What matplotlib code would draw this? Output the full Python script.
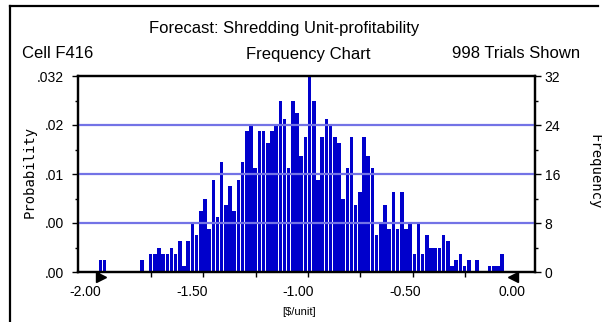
import numpy as np
import matplotlib
matplotlib.use("Agg")
import matplotlib.pyplot as plt
from matplotlib.lines import Line2D

# frequency counts per cell, cells start at -2.00 and are 0.02 wide
bin_lo = -2.00
bin_step = 0.02
counts = [2, 2, 0, 0, 0, 0, 0, 0, 0, 0,
          2, 0, 3, 3, 4, 3, 3, 4, 3, 5,
          1, 5, 8, 6, 10, 12, 7, 15, 9, 18,
          11, 14, 10, 15, 18, 23, 24, 17, 23, 23,
          21, 23, 24, 28, 25, 17, 28, 26, 19, 22,
          32, 28, 15, 22, 25, 24, 22, 21, 12, 17,
          22, 11, 13, 22, 19, 17, 6, 8, 11, 7,
          13, 7, 13, 7, 8, 3, 8, 3, 6, 4,
          4, 4, 6, 5, 1, 2, 3, 1, 2, 0,
          2, 0, 0, 1, 1, 1, 3]

x_labels = ["-2.00", "-1.50", "-1.00", "-0.50", "0.00"]
x_label_pos = [-2.064, -1.553, -1.047, -0.536, -0.025]
x_minor = [-2.0, -1.75, -1.5, -1.25, -1.0, -0.75, -0.5, -0.25, 0.0]
freq_ticks = [0, 8, 16, 24, 32]
prob_labels = [".00", ".00", ".01", ".02", ".032"]
freq_labels = ["0", "8", "16", "24", "32"]
range_marks = [-1.99, -0.022]

sans = ["Liberation Sans", "DejaVu Sans"]
mono = "DejaVu Sans Mono"
bar_col = "#0000CC"
grid_col = "#7373E6"

fig = plt.figure(figsize=(6.02, 3.22), dpi=100)
ax = fig.add_axes([78 / 602, 1 - 272 / 322, 457 / 602, 196 / 322])

x = bin_lo + bin_step * np.arange(len(counts))
ax.bar(x, counts, width=bin_step * 0.85, align="edge", color=bar_col,
       edgecolor="none", zorder=2)

for v in freq_ticks[1:-1]:
    ax.axhline(v, color=grid_col, lw=1.6, zorder=3)

ax.set_xlim(-2.098, 0.085)
ax.set_ylim(0, 32)

ax.set_xticks(x_label_pos)
ax.set_xticklabels(x_labels, fontfamily=sans, fontsize=10)
ax.set_xticks(x_minor, minor=True)
ax.tick_params(axis="x", which="major", length=0, pad=9)
ax.tick_params(axis="x", which="minor", length=3.5, width=1, direction="out")

ax.set_yticks(freq_ticks)
ax.set_yticklabels(prob_labels, fontfamily=sans, fontsize=10)
ax.set_yticks([4, 12, 20, 28], minor=True)
ax.tick_params(axis="y", which="major", length=4, width=1, pad=6)
ax.tick_params(axis="y", which="minor", length=2.5, width=1)

ax2 = ax.twinx()
ax2.set_ylim(0, 32)
ax2.set_yticks(freq_ticks)
ax2.set_yticklabels(freq_labels, fontfamily=sans, fontsize=10)
ax2.set_yticks([4, 12, 20, 28], minor=True)
ax2.tick_params(axis="y", which="major", length=4, width=1, pad=3)
ax2.tick_params(axis="y", which="minor", length=2.5, width=1)

for a in (ax, ax2):
    for s in a.spines.values():
        s.set_linewidth(1.6)
        s.set_color("black")

# certainty range markers under the axis
ax.plot([range_marks[0]], [-0.85], marker=">", color="black", ms=7,
        clip_on=False, zorder=5)
ax.plot([range_marks[1]], [-0.85], marker="<", color="black", ms=7,
        clip_on=False, zorder=5)

# headings
fig.text(284 / 602, 1 - 28 / 322, "Forecast: Shredding Unit-profitability",
         ha="center", va="center", fontfamily=sans, fontsize=12)
fig.text(22 / 602, 1 - 54 / 322, "Cell F416", ha="left", va="center",
         fontfamily=sans, fontsize=12)
fig.text(308 / 602, 1 - 54 / 322, "Frequency Chart", ha="center",
         va="center", fontfamily=sans, fontsize=12)
fig.text(580 / 602, 1 - 54 / 322, "998 Trials Shown", ha="right",
         va="center", fontfamily=sans, fontsize=12)
fig.text(299 / 602, 1 - 312 / 322, "[$/unit]", ha="center", va="center",
         fontfamily=sans, fontsize=8)
fig.text(30 / 602, 1 - 172 / 322, "Probability", rotation=90, ha="center",
         va="center", fontfamily=mono, fontsize=10)
fig.text(594 / 602, 1 - 172 / 322, "Frequency", rotation=-90, ha="center",
         va="center", fontfamily=mono, fontsize=10)

# outer frame (top and left edges show)
fig.add_artist(Line2D([10 / 602, 598 / 602], [1 - 6 / 322, 1 - 6 / 322],
                      color="black", lw=1.6, transform=fig.transFigure))
fig.add_artist(Line2D([10 / 602, 10 / 602], [1 - 6 / 322, 0],
                      color="black", lw=1.6, transform=fig.transFigure))

fig.savefig("out.png", dpi=100)
